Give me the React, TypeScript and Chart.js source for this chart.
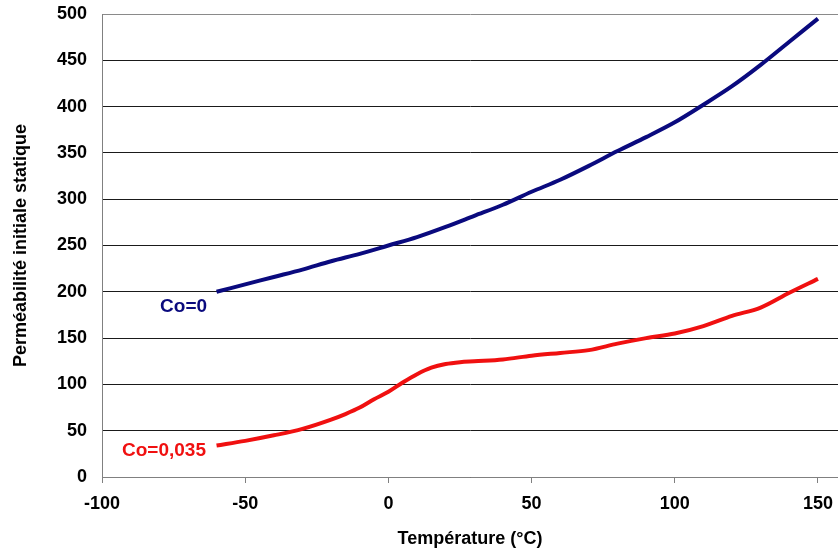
import React, { useEffect, useRef } from "react";
import { Chart, registerables } from "chart.js";

Chart.register(...registerables);

const temperatures0: number[] = [-60, -50, -40, -30, -20, -10, 0, 10, 20, 30, 40, 50, 60, 70, 80, 90, 100, 110, 120, 130, 140, 150];
const permeabilityCo0: number[] = [200, 208, 216, 224, 233, 241, 250, 259, 270, 282, 294, 308, 321, 336, 352, 367, 383, 402, 422, 445, 470, 495];

const temperatures035: number[] = [-60, -50, -40, -30, -20, -15, -10, -5, 0, 5, 10, 15, 20, 25, 30, 40, 50, 60, 70, 80, 90, 100, 110, 120, 130, 140, 150];
const permeabilityCo035: number[] = [34, 39, 45, 52, 62, 68, 75, 84, 92, 102, 111, 118, 122, 124, 125, 127, 131, 134, 137, 144, 150, 155, 163, 174, 183, 199, 214];

const xTicks: number[] = [-100, -50, 0, 50, 100, 150];
const yTicks: number[] = [0, 50, 100, 150, 200, 250, 300, 350, 400, 450, 500];

const seriesLabels: string[] = ["Co=0", "Co=0,035"];
const labelAnchorsX: number[] = [-63.3, -63.7];
const labelAnchorsY: number[] = [184, 28];

const BLUE = "#0a0a7e";
const RED = "#f01010";
const FONT = '"Liberation Sans", Arial, sans-serif';

export default function App() {
  const canvasRef = useRef<HTMLCanvasElement | null>(null);

  useEffect(() => {
    document.body.style.margin = "0";
    const canvas = canvasRef.current;
    if (!canvas) return;

    const labelPlugin = {
      id: "curveLabels",
      afterDatasetsDraw(chart: any) {
        const { ctx, scales } = chart;
        ctx.save();
        ctx.font = `bold 19px ${FONT}`;
        ctx.textAlign = "right";
        ctx.textBaseline = "middle";
        const colors = [BLUE, RED];
        seriesLabels.forEach((t, i) => {
          ctx.fillStyle = colors[i];
          ctx.fillText(t, scales.x.getPixelForValue(labelAnchorsX[i]), scales.y.getPixelForValue(labelAnchorsY[i]));
        });
        ctx.restore();
      },
    };

    const chart = new Chart(canvas, {
      type: "line",
      data: {
        datasets: [
          {
            label: seriesLabels[0],
            data: temperatures0.map((x, i) => ({ x, y: permeabilityCo0[i] })),
            borderColor: BLUE,
            backgroundColor: BLUE,
            borderWidth: 4,
            pointRadius: 0,
            cubicInterpolationMode: "monotone",
          },
          {
            label: seriesLabels[1],
            data: temperatures035.map((x, i) => ({ x, y: permeabilityCo035[i] })),
            borderColor: RED,
            backgroundColor: RED,
            borderWidth: 4,
            pointRadius: 0,
            cubicInterpolationMode: "monotone",
          },
        ],
      },
      options: {
        animation: false,
        responsive: false,
        maintainAspectRatio: false,
        layout: { padding: { top: 14, right: 0, left: 0, bottom: 0 } },
        plugins: {
          legend: { display: false },
          tooltip: { enabled: false },
        },
        scales: {
          x: {
            type: "linear",
            min: -100,
            max: 157,
            afterBuildTicks: (scale: any) => {
              scale.ticks = xTicks.map((v) => ({ value: v }));
            },
            afterFit: (scale: any) => {
              scale.height = 77;
              scale.paddingLeft = 0;
              scale.paddingRight = 0;
            },
            grid: {
              drawOnChartArea: false,
              drawTicks: true,
              tickLength: 6,
              color: "#808080",
            },
            border: { color: "#808080", width: 1 },
            ticks: {
              color: "#000",
              font: { family: FONT, size: 18, weight: "bold" },
              padding: 10,
              maxRotation: 0,
              autoSkip: false,
            },
            title: {
              display: true,
              text: "Température (°C)",
              color: "#000",
              font: { family: FONT, size: 18, weight: "bold" },
              padding: { top: 0, bottom: 4 },
            },
          },
          y: {
            type: "linear",
            min: 0,
            max: 500,
            afterBuildTicks: (scale: any) => {
              scale.ticks = yTicks.map((v) => ({ value: v }));
            },
            afterFit: (scale: any) => {
              scale.width = 102;
              scale.paddingTop = 0;
              scale.paddingBottom = 0;
            },
            grid: {
              drawTicks: false,
              color: (c: any) => (c.tick && c.tick.value === 500 ? "#8a8a8a" : "#1a1a1a"),
              lineWidth: 1,
            },
            border: { color: "#808080", width: 1 },
            ticks: {
              color: "#000",
              font: { family: FONT, size: 18, weight: "bold" },
              padding: 15,
              autoSkip: false,
            },
            title: {
              display: true,
              text: "Perméabilité initiale statique",
              color: "#000",
              font: { family: FONT, size: 18, weight: "bold" },
              padding: { top: 10, bottom: 0 },
            },
          },
        },
      } as any,
      plugins: [labelPlugin],
    });

    return () => chart.destroy();
  }, []);

  return (
    <div style={{ width: 838, height: 554, background: "#fff" }}>
      <canvas ref={canvasRef} width={838} height={554} style={{ display: "block" }} />
    </div>
  );
}
